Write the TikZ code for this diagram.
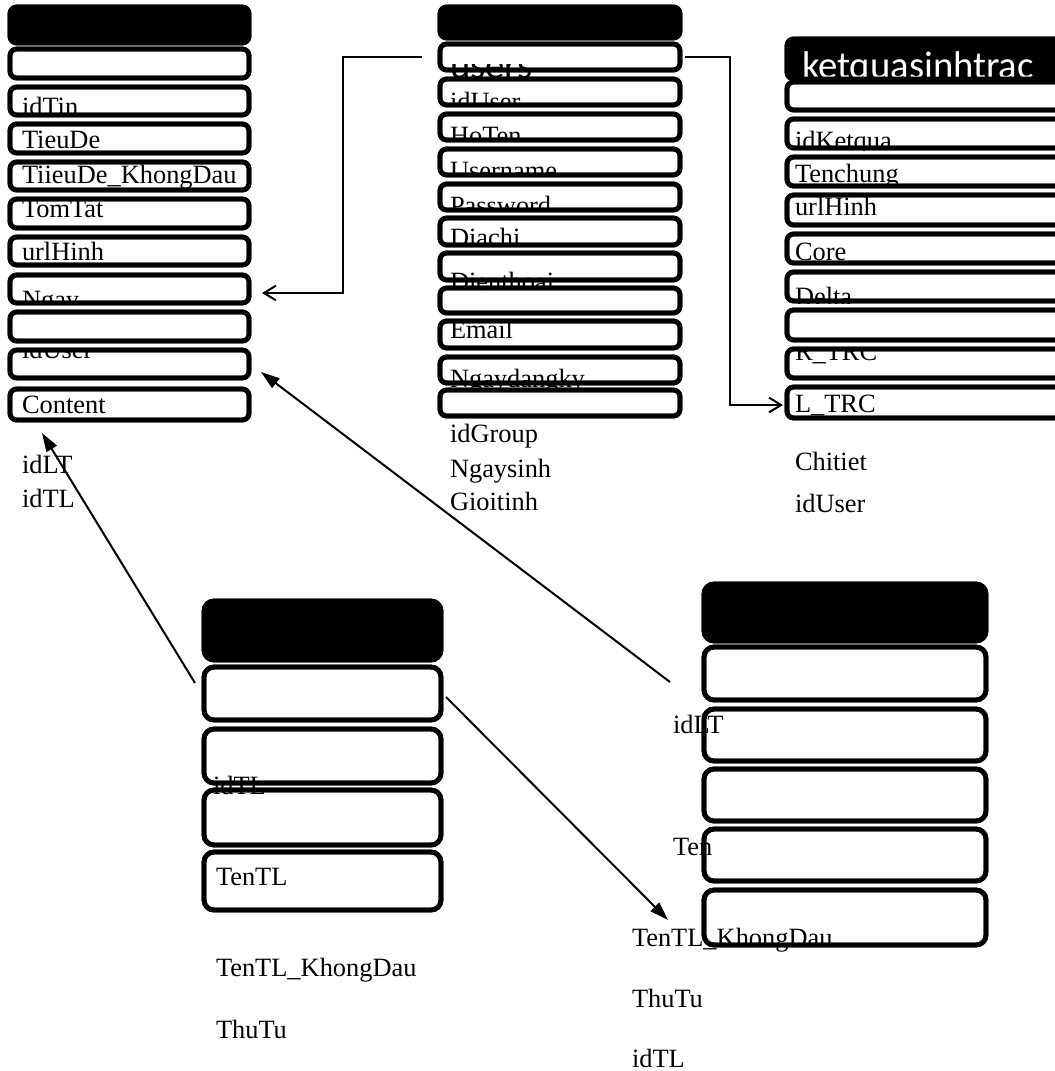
\documentclass[tikz,border=0pt]{standalone}
\usepackage{fontspec}
\setmainfont{Liberation Serif}
\newfontfamily\hdrfont{Carlito}
\usetikzlibrary{arrows.meta}
\newcommand\tb[6]{\node[#6, minimum width={(#4-#2)*0.75pt}, minimum height={(#5-#3)*0.75pt}] (#1) at ({(#2+#4)/2},{(#3+#5)/2}) {};}
\begin{document}
\begin{tikzpicture}[x=0.75pt,y=-0.75pt,
  fld/.style={rectangle, draw=black, fill=white, line width=3.6pt, rounded corners=5pt, inner sep=0pt, outer sep=0pt},
  hd/.style={fld, fill=black},
  fldb/.style={fld, rounded corners=7.5pt},
  hdb/.style={fldb, fill=black},
  bord/.style={draw=black, line width=3.6pt, rounded corners=5pt},
  bordb/.style={bord, rounded corners=7.5pt},
  txt/.style={anchor=base west, inner sep=0pt, outer sep=0pt, font=\fontsize{19.8}{23}\selectfont},
  hdt/.style={anchor=base west, inner sep=0pt, outer sep=0pt, font=\hdrfont\fontsize{29}{34}\selectfont},
  conn/.style={line width=1.5pt},
  openarr/.style={conn, -{Straight Barb[length=9pt,width=11pt,line width=1.5pt]}},
  fullarr/.style={conn, -{Triangle[length=14pt,width=9pt]}}]
\useasboundingbox (0,0) rectangle (1055,1071);
\fill[white] (0,0) rectangle (1055,1071);
\clip (0,0) rectangle (1055,1071);

% ---------- left table ----------
\tb{L0}{10}{7}{249}{43}{hd}
\tb{L1}{10}{49}{249}{78}{fld}
\tb{L2}{10}{87}{249}{115}{fld}
\tb{L3}{10}{124}{249}{153}{fld}
\tb{L4}{10}{162}{249}{190}{fld}
\tb{L5}{10}{199}{249}{228}{fld}
\tb{L6}{10}{237}{249}{265}{fld}
\tb{L7}{10}{275}{249}{303}{fld}
\tb{L8}{10}{312}{249}{341}{fld}
\tb{L9}{10}{350}{249}{378}{fld}
\tb{L10}{10}{389}{249}{420}{fld}

% ---------- middle table ----------
\tb{M0}{440}{7}{680}{38}{hd}
\tb{M1}{440}{44}{680}{70}{fld}
\tb{M2}{440}{79}{680}{105}{fld}
\tb{M3}{440}{114}{680}{140}{fld}
\tb{M4}{440}{149}{680}{175}{fld}
\tb{M5}{440}{184}{680}{210}{fld}
\tb{M6}{440}{218}{680}{245}{fld}
\tb{M7}{440}{253}{680}{280}{fld}
\tb{M8}{440}{288}{680}{313}{fld}
\tb{M9}{440}{321}{680}{348}{fld}
\tb{M10}{440}{357}{680}{383}{fld}
\tb{M11}{440}{390}{680}{416}{fld}

% ---------- right table ----------
\tb{R0}{787}{39}{1085}{79}{hd}
\tb{R1}{787}{82}{1085}{110}{fld}
\tb{R2}{787}{119}{1085}{148}{fld}
\tb{R3}{787}{157}{1085}{186}{fld}
\tb{R4}{787}{195}{1085}{225}{fld}
\tb{R5}{787}{234}{1085}{263}{fld}
\tb{R6}{787}{272}{1085}{301}{fld}
\tb{R7}{787}{310}{1085}{340}{fld}
\tb{R8}{787}{349}{1085}{378}{fld}
\tb{R9}{787}{387}{1085}{418}{fld}

% ---------- bottom-left table ----------
\tb{A0}{204}{601}{441}{660}{hdb}
\tb{A1}{204}{667}{441}{720}{fldb}
\tb{A2}{204}{729}{441}{783}{fldb}
\tb{A3}{204}{790}{441}{845}{fldb}
\tb{A4}{204}{852}{441}{910}{fldb}

% ---------- bottom-right table ----------
\tb{B0}{704}{584}{986}{641}{hdb}
\tb{B1}{704}{647}{986}{700}{fldb}
\tb{B2}{704}{709}{986}{761}{fldb}
\tb{B3}{704}{769}{986}{821}{fldb}
\tb{B4}{704}{829}{986}{881}{fldb}
\tb{B5}{704}{890}{986}{945}{fldb}

% ---------- texts: left ----------
\node[txt] (tl1) at (22,115) {idTin};
\node[txt] (tl2) at (22,148) {TieuDe};
\node[txt] (tl3) at (22,183) {TiieuDe\_KhongDau};
\node[txt] (tl4) at (22,217) {TomTat};
\node[txt] (tl5) at (22,260) {urlHinh};
\begin{scope}\clip (12,200) rectangle (247,304);
\node[txt] (tl6) at (22,308) {Ngay};\end{scope}
\begin{scope}\clip (12,349) rectangle (247,420);
\node[txt] (tl7) at (22,358) {idUser};\end{scope}
\node[txt] (tl8) at (22,413) {Content};
\node[txt] (tl9) at (22,473) {idLT};
\node[txt] (tl10) at (22,507) {idTL};

% ---------- texts: middle ----------
\begin{scope}\clip (442,64) rectangle (678,77);
\node[hdt] (tm0) at (450,78) {users};\end{scope}
\begin{scope}\clip (442,80) rectangle (678,106);
\node[txt] (tm1) at (450,110) {idUser};\end{scope}
\begin{scope}\clip (442,115) rectangle (678,141);
\node[txt] (tm2) at (450,144) {HoTen};\end{scope}
\begin{scope}\clip (442,150) rectangle (678,176);
\node[txt] (tm3) at (450,179) {Username};\end{scope}
\begin{scope}\clip (442,185) rectangle (678,211);
\node[txt] (tm4) at (450,214) {Password};\end{scope}
\node[txt] (tm5) at (450,246) {Diachi};
\node[txt] (tm6) at (450,290) {Dienthoai};
\node[txt] (tm7) at (450,338) {Email};
\begin{scope}\clip (442,358) rectangle (678,387);
\node[txt] (tm8) at (450,387) {Ngaydangky};\end{scope}
\node[txt] (tm9) at (450,442) {idGroup};
\node[txt] (tm10) at (450,477) {Ngaysinh};
\node[txt] (tm11) at (450,510) {Gioitinh};

% ---------- texts: right ----------
\begin{scope}\clip (789,40) rectangle (1080,80);
\node[hdt, text=white] (tr0) at (802,78) {ketquasinhtrac};\end{scope}
\begin{scope}\clip (789,120) rectangle (1080,150);
\node[txt] (tr1) at (795,149) {idKetqua};\end{scope}
\node[txt] (tr2) at (795,182) {Tenchung};
\node[txt] (tr3) at (795,215) {urlHinh};
\node[txt] (tr4) at (795,260) {Core};
\begin{scope}\clip (789,273) rectangle (1080,303);
\node[txt] (tr5) at (795,305) {Delta};\end{scope}
\begin{scope}\clip (789,349) rectangle (1080,378);
\node[txt] (tr6) at (795,360) {R\_TRC};\end{scope}
\node[txt] (tr7) at (795,412) {L\_TRC};
\node[txt] (tr8) at (795,470) {Chitiet};
\node[txt] (tr9) at (795,512) {idUser};

% ---------- texts: bottom-left ----------
\node[txt] (ta1) at (213,794) {idTL};
\node[txt] (ta2) at (216,885) {TenTL};
\node[txt] (ta3) at (216,976) {TenTL\_KhongDau};
\node[txt] (ta4) at (216,1038) {ThuTu};

% ---------- texts: bottom-right ----------
\node[txt] (tb1) at (673,733) {idLT};
\node[txt] (tb2) at (673,855) {Ten};
\node[txt] (tb3) at (632,946) {TenTL\_KhongDau};
\node[txt] (tb4) at (632,1007) {ThuTu};
\node[txt] (tb5) at (632,1067) {idTL};

% ---------- borders over texts ----------
\foreach \n in {L0,L1,L2,L3,L4,L5,L6,L7,L8,L9,L10,M0,M1,M2,M3,M4,M5,M6,M7,M8,M9,M10,M11,R0,R1,R2,R3,R4,R5,R6,R7,R8,R9}
  \draw[bord] (\n.south west) rectangle (\n.north east);
\foreach \n in {A0,A1,A2,A3,A4,B0,B1,B2,B3,B4,B5}
  \draw[bordb] (\n.south west) rectangle (\n.north east);

% ---------- connectors ----------
\coordinate (c1a) at (422,57);
\coordinate (c1b) at (262,293);
\coordinate (c2a) at (685,57);
\coordinate (c2b) at (783,405);
\coordinate (c3a) at (670,682);
\coordinate (c3b) at (261,372);
\coordinate (c4a) at (195,683);
\coordinate (c4b) at (42,433);
\coordinate (c5a) at (446,697);
\coordinate (c5b) at (668,920);
\draw[openarr] (c1a) -- ++(-79,0) |- (c1b);
\draw[openarr] (c2a) -- ++(45,0) |- (c2b);
\draw[fullarr] (c3a) -- (c3b);
\draw[fullarr] (c4a) -- (c4b);
\draw[fullarr] (c5a) -- (c5b);
\end{tikzpicture}
\end{document}
